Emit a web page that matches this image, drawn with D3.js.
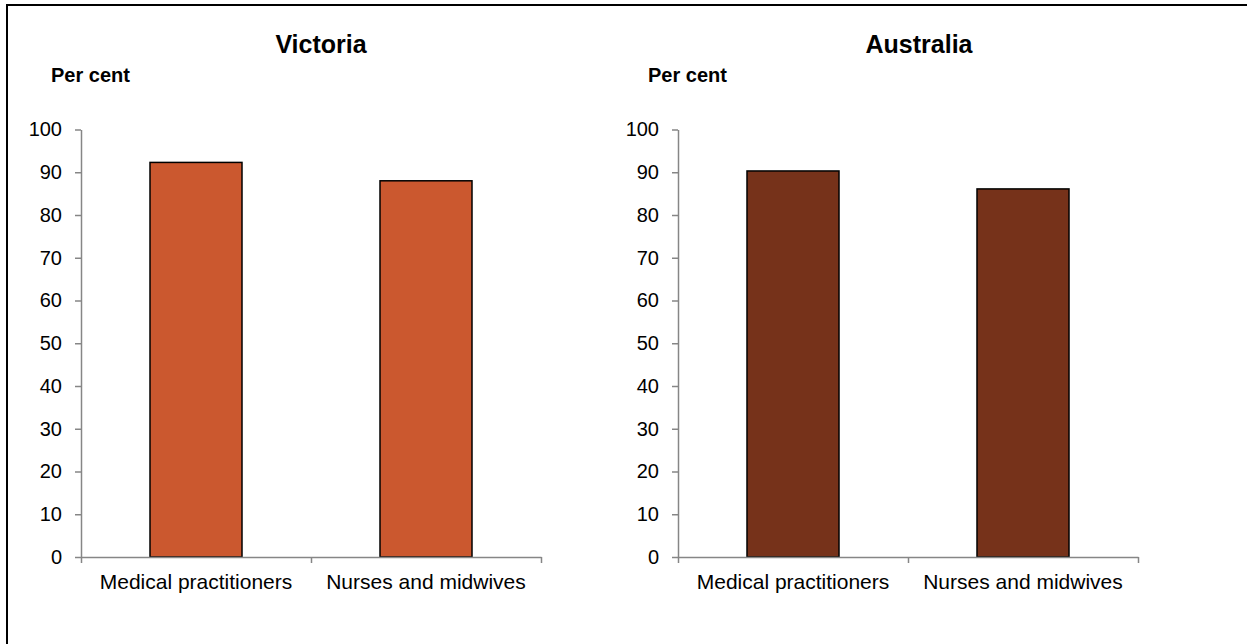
<!DOCTYPE html>
<html>
<head>
<meta charset="utf-8">
<script src="https://cdn.jsdelivr.net/npm/d3@7"></script>
<style>
  body { margin: 0; background: #fff; }
  svg { font-family: "Liberation Sans", Arial, sans-serif; }
</style>
</head>
<body>
<div id="chart"></div>
<script>
var categories = ["Medical practitioners", "Nurses and midwives"];
var victoria = [92.3, 88.0];
var australia = [90.3, 86.1];
var yTicks = [0, 10, 20, 30, 40, 50, 60, 70, 80, 90, 100];

var width = 1247, height = 644;
var svg = d3.select("#chart").append("svg").attr("width", width).attr("height", height);

svg.append("rect")
  .attr("x", 7).attr("y", 5)
  .attr("width", 1260).attr("height", 660)
  .attr("fill", "none").attr("stroke", "#000").attr("stroke-width", 2);

var panels = [
  { title: "Victoria", values: victoria, color: "#CB582F", left: 81, titleX: 321, unitX: 51 },
  { title: "Australia", values: australia, color: "#76321A", left: 678, titleX: 919, unitX: 648 }
];

var y = d3.scaleLinear().domain([0, 100]).range([557, 129.5]);

panels.forEach(function (p) {
  var x = d3.scaleBand().domain(categories).range([p.left, p.left + 460]).paddingInner(0.6).paddingOuter(0.3);
  var g = svg.append("g");

  g.append("text").attr("x", p.titleX).attr("y", 53)
    .attr("text-anchor", "middle").attr("font-weight", "bold").attr("font-size", 25)
    .text(p.title);
  g.append("text").attr("x", p.unitX).attr("y", 82)
    .attr("font-weight", "bold").attr("font-size", 20)
    .text("Per cent");

  g.selectAll("rect.bar").data(p.values).enter().append("rect")
    .attr("class", "bar")
    .attr("x", function (d, i) { return x(categories[i]); })
    .attr("width", x.bandwidth())
    .attr("y", function (d) { return y(d); })
    .attr("height", function (d) { return y(0) - y(d); })
    .attr("fill", p.color)
    .attr("stroke", "#000").attr("stroke-width", 1.5);

  var yAxis = g.append("g").attr("transform", "translate(" + p.left + ",0)")
    .call(d3.axisLeft(y).tickValues(yTicks).tickSize(6).tickPadding(13).tickSizeOuter(0));
  yAxis.select(".domain").attr("stroke", "#868686").attr("stroke-width", 1.5);
  yAxis.selectAll(".tick line").attr("stroke", "#868686").attr("stroke-width", 1.5);
  yAxis.selectAll(".tick text").attr("font-size", 20).attr("fill", "#000")
    .attr("font-family", "Liberation Sans, Arial, sans-serif");

  // x axis with ticks at category boundaries
  var xb = d3.scaleLinear().domain([0, 2]).range([p.left, p.left + 460]);
  var xAxis = g.append("g").attr("transform", "translate(0," + y(0) + ")")
    .call(d3.axisBottom(xb).tickValues([0, 1, 2]).tickSize(6).tickSizeOuter(0).tickFormat(""));
  xAxis.select(".domain").attr("stroke", "#868686").attr("stroke-width", 1.5);
  xAxis.selectAll(".tick line").attr("stroke", "#868686").attr("stroke-width", 1.5);

  g.selectAll("text.cat").data(categories).enter().append("text")
    .attr("class", "cat")
    .attr("x", function (d, i) { return xb(i + 0.5); })
    .attr("y", 589)
    .attr("text-anchor", "middle").attr("font-size", 21)
    .text(function (d) { return d; });
});
</script>
</body>
</html>
